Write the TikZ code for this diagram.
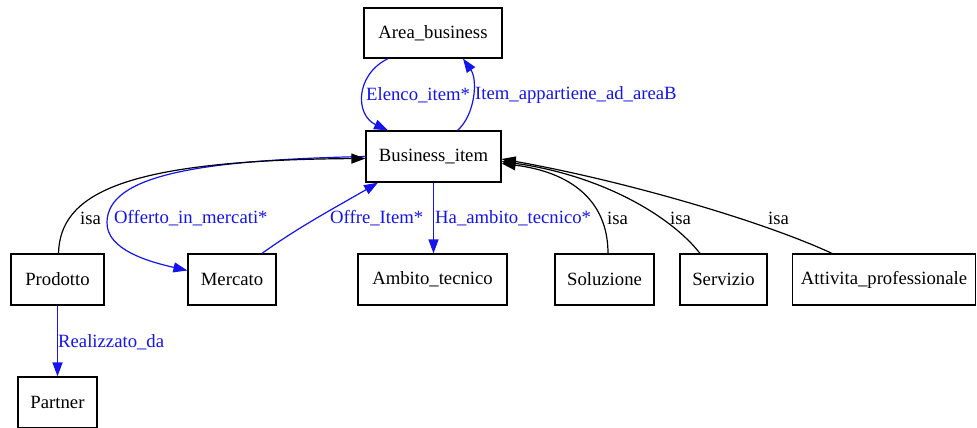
\documentclass[tikz,border=0pt]{standalone}
\usepackage{fontspec}
\setmainfont{Liberation Serif}
\usetikzlibrary{arrows.meta,calc}
\definecolor{relblue}{RGB}{20,20,235}
\begin{document}
\begin{tikzpicture}[x=1pt,y=-1pt,
  txt/.style={font=\fontsize{18.7}{22}\selectfont},
  box/.style={txt,draw,line width=1.2pt,inner sep=0pt,minimum height=51pt},
  rel/.style={draw=relblue,line width=1.2pt,-{Triangle[length=14pt,width=10pt,fill=relblue]}},
  isa/.style={draw=black,line width=1.2pt,-{Triangle[length=14pt,width=10pt]}},
  rellbl/.style={txt,anchor=west,inner sep=0pt,text=relblue},
  isalbl/.style={txt,anchor=west,inner sep=0pt}]
  \fill[white] (0,0) rectangle (977,428);
  \useasboundingbox (0,0) rectangle (977,428);

  % classes
  \node[box,minimum width=138pt,minimum height=50pt] (A) at (433,33) {Area\_business};
  \node[box,minimum width=135pt] (B) at (433.5,156.5) {Business\_item};
  \node[box,minimum width=93pt]  (P) at (57.5,279.5) {Prodotto};
  \node[box,minimum width=88pt]  (M) at (232,279.5) {Mercato};
  \node[box,minimum width=149pt] (T) at (432.5,279.5) {Ambito\_tecnico};
  \node[box,minimum width=99pt]  (S) at (604.5,279.5) {Soluzione};
  \node[box,minimum width=87pt]  (V) at (723.5,279.5) {Servizio};
  \node[box,minimum width=183pt] (W) at (884,279.5) {Attivita\_professionale};
  \node[box,minimum width=79pt]  (Q) at (57.5,402.5) {Partner};

  % relations
  \draw[rel] ($(A.south)+(-45,0)$) .. controls (355,75) and (355,115) .. ($(B.north)+(-45.5,0)$);
  \node[rellbl] (l1) at (366,95) {Elenco\_item*};
  \draw[rel] ($(B.north)+(24,0)$) .. controls (475,115) and (478,80) .. ($(A.south)+(30,0)$);
  \node[rellbl] (l2) at (475,95) {Item\_appartiene\_ad\_areaB};

  \draw[rel] (B.west) .. controls (200,160) and (108,175) .. (107,222)
                      .. controls (106,250) and (150,262) .. ($(M.west)+(0,-9)$);
  \node[rellbl] (l3) at (114,218) {Offerto\_in\_mercati*};

  \draw[rel] ($(M.north)+(30,0)$) .. controls (300,226) and (340,205) .. ($(B.south)+(-55.5,0)$);
  \node[rellbl] (l4) at (330,218) {Offre\_Item*};

  \draw[rel] (B.south) -- (B.south |- T.north);
  \node[rellbl] (l5) at (435,218) {Ha\_ambito\_tecnico*};

  \draw[rel] (P.south) -- (Q.north);
  \node[rellbl] (l6) at (58,342) {Realizzato\_da};

  % generalisations
  \draw[isa] ($(P.north)+(1,0)$) .. controls (60,195) and (120,160) .. ($(B.west)+(0,2)$);
  \node[isalbl] (i1) at (80,218) {isa};

  \draw[isa] ($(S.north)+(3.5,0)$) .. controls (608,200) and (570,172) .. ($(B.east)+(0,7)$);
  \node[isalbl] (i2) at (607,218) {isa};

  \draw[isa] ($(V.north)+(-23.5,0)$) .. controls (670,215) and (600,175) .. ($(B.east)+(0,5)$);
  \node[isalbl] (i3) at (670,218) {isa};

  \draw[isa] ($(W.north)+(-52,0)$) .. controls (760,220) and (620,180) .. ($(B.east)+(0,2.5)$);
  \node[isalbl] (i4) at (768,218) {isa};
\end{tikzpicture}
\end{document}
